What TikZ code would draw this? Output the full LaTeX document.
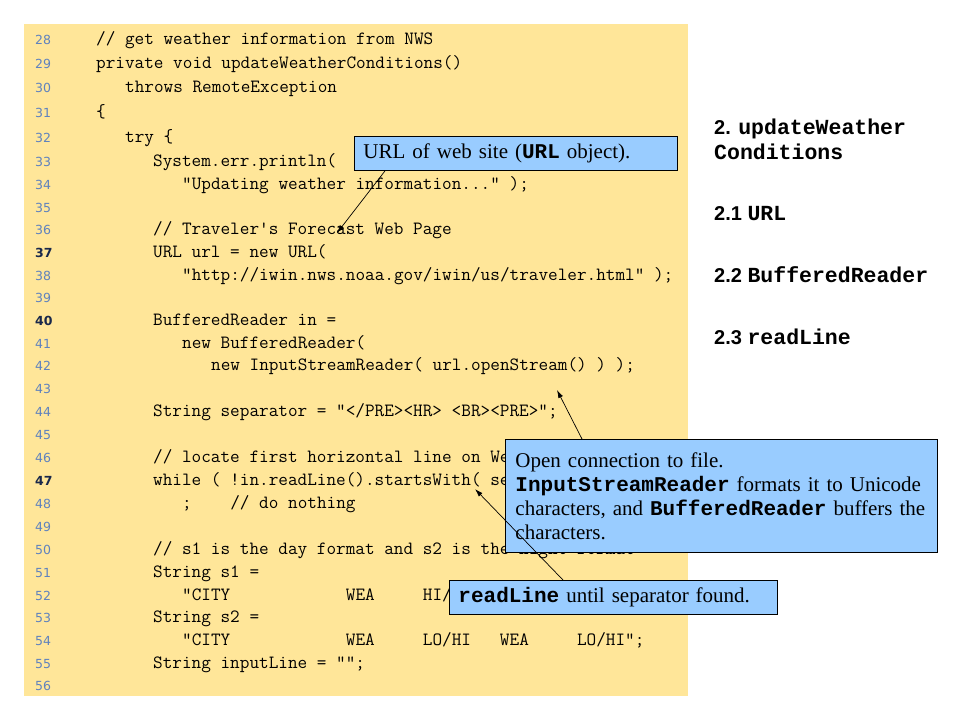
\documentclass[tikz,border=0pt]{standalone}
\usepackage{fontspec}
\setmainfont{Liberation Serif}
\setsansfont{Liberation Sans}
\newfontfamily\boldmono{Liberation Mono}
\newfontfamily\numfont{DejaVu Sans}
\usetikzlibrary{arrows.meta}

\definecolor{codebg}{RGB}{255,230,153}
\definecolor{noteblue}{RGB}{153,204,255}
\definecolor{numlight}{RGB}{95,130,190}
\definecolor{numdark}{RGB}{25,40,75}

\newcommand{\codefont}{\ttfamily\fontsize{18.7}{22}\selectfont}
\newcommand{\numsize}{\numfont\fontsize{12.5}{15}\selectfont}
\newcommand{\notefont}{\rmfamily\fontsize{21}{24}\selectfont}
\newcommand{\notecode}[1]{{\boldmono\bfseries #1}}
\newcommand{\headnum}{\sffamily\bfseries\fontsize{20}{24}\selectfont}
\newcommand{\headcode}{\boldmono\bfseries\fontsize{21.5}{25}\selectfont}

\tikzset{
  codeline/.style={anchor=west, inner sep=0pt, text height=11pt, text depth=3pt, font=\codefont},
  lineno/.style={anchor=west, inner sep=0pt, text height=9pt, text depth=0pt, font=\numsize, text=numlight},
  linenobold/.style={lineno, font=\numsize\bfseries, text=numdark},
  heading/.style={anchor=west, inner sep=0pt, text height=14pt, text depth=4pt},
  note/.style={draw=black, line width=0.9pt, fill=noteblue, anchor=north west, align=left,
    inner ysep=3pt, font=\notefont},
  pointer/.style={-{Latex[length=8pt,width=5pt]}, line width=0.7pt}
}

\begin{document}
\begin{tikzpicture}[x=1pt,y=-1pt]
\useasboundingbox (0,0) rectangle (960,720);
\fill[codebg] (24,24) rectangle (688,696);

% line numbers
\node[lineno] (n28) at (35,40) {28};
\node[lineno] (n29) at (35,64) {29};
\node[lineno] (n30) at (35,88) {30};
\node[lineno] (n31) at (35,113) {31};
\node[lineno] (n32) at (35,138) {32};
\node[lineno] (n33) at (35,162) {33};
\node[lineno] (n34) at (35,185) {34};
\node[lineno] (n35) at (35,208) {35};
\node[lineno] (n36) at (35,230) {36};
\node[linenobold] (n37) at (35,253) {37};
\node[lineno] (n38) at (35,276) {38};
\node[lineno] (n39) at (35,298) {39};
\node[linenobold] (n40) at (35,321) {40};
\node[lineno] (n41) at (35,344) {41};
\node[lineno] (n42) at (35,366) {42};
\node[lineno] (n43) at (35,389) {43};
\node[lineno] (n44) at (35,412) {44};
\node[lineno] (n45) at (35,435) {45};
\node[lineno] (n46) at (35,458) {46};
\node[linenobold] (n47) at (35,481) {47};
\node[lineno] (n48) at (35,504) {48};
\node[lineno] (n49) at (35,527) {49};
\node[lineno] (n50) at (35,550) {50};
\node[lineno] (n51) at (35,573) {51};
\node[lineno] (n52) at (35,596) {52};
\node[lineno] (n53) at (35,618) {53};
\node[lineno] (n54) at (35,641) {54};
\node[lineno] (n55) at (35,664) {55};
\node[lineno] (n56) at (35,686) {56};

% code
\node[codeline] (c28) at (96,40) {// get weather information from NWS};
\node[codeline] (c29) at (96,64) {private void updateWeatherConditions()};
\node[codeline] (c30) at (125,88) {throws RemoteException};
\node[codeline] (c31) at (96,113) {\{};
\node[codeline] (c32) at (125,138) {try \{};
\node[codeline] (c33) at (153,162) {System.err.println(};
\node[codeline] (c34) at (182,185) {"Updating weather information..." );};
\node[codeline] (c36) at (153,230) {// Traveler's Forecast Web Page};
\node[codeline] (c37) at (153,253) {URL url = new URL(};
\node[codeline] (c38) at (182,276) {"http://iwin.nws.noaa.gov/iwin/us/traveler.html" );};
\node[codeline] (c40) at (153,321) {BufferedReader in =};
\node[codeline] (c41) at (182,344) {new BufferedReader(};
\node[codeline] (c42) at (211,366) {new InputStreamReader( url.openStream() ) );};
\node[codeline] (c44) at (153,412) {String separator = "</PRE><HR> <BR><PRE>";};
\node[codeline] (c46) at (153,458) {// locate first horizontal line on We};
\node[codeline] (c47) at (153,481) {while ( !in.readLine().startsWith( se};
\node[codeline] (c48) at (182,504) {;~~~~// do nothing};
\node[codeline] (c50) at (153,550) {// s1 is the day format and s2 is the night format};
\node[codeline] (c51) at (153,573) {String s1 =};
\node[codeline] (c52) at (182,596) {"CITY~~~~~~~~~~~~WEA~~~~~HI/};
\node[codeline] (c53) at (153,618) {String s2 =};
\node[codeline] (c54) at (182,641) {"CITY~~~~~~~~~~~~WEA~~~~~LO/HI~~~WEA~~~~~LO/HI";};
\node[codeline] (c55) at (153,664) {String inputLine = "";};

% outline on the right
\node[heading] (h2) at (714,129) {\headnum 2. \headcode updateWeather};
\node[heading] (h2b) at (714,154) {\headcode Conditions};
\node[heading] (h21) at (714,215) {\headnum 2.1 \headcode URL};
\node[heading] (h22) at (714,277) {\headnum 2.2 \headcode BufferedReader};
\node[heading] (h23) at (714,339) {\headnum 2.3 \headcode readLine};

% callouts
\node[note, inner xsep=9pt, text width=305pt, minimum height=34pt] (urlnote) at (354,136)
  {URL of web site (\notecode{URL} object).};
\node[note, inner xsep=10pt, text width=412pt, minimum height=113pt] (opennote) at (505,439)
  {Open connection to file.\\
   \notecode{InputStreamReader} formats it to Unicode\\
   characters, and \notecode{BufferedReader} buffers the\\
   characters.};
\node[note, inner xsep=9pt, text width=310pt, minimum height=34pt] (readnote) at (449,580)
  {\notecode{readLine} until separator found.};

\coordinate (urltip) at (337,233);
\coordinate (opentip) at (557,390);
\coordinate (readtip) at (475,489);
\draw[pointer] ([xshift=31pt]urlnote.south west) -- (urltip);
\draw[pointer] ([xshift=77pt]opennote.north west) -- (opentip);
\draw[pointer] ([xshift=114pt]readnote.north west) -- (readtip);
\end{tikzpicture}
\end{document}
